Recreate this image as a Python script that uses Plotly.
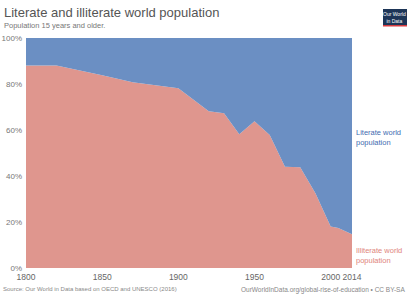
import plotly.graph_objects as go

years = [1800, 1820, 1850, 1870, 1900, 1910, 1920, 1930, 1940, 1950, 1960, 1970, 1980, 1990, 2000, 2005, 2014]
illiterate = [88.0, 88.0, 83.8, 80.8, 78.2, 73.2, 68.2, 67.3, 58.1, 63.8, 57.8, 44.0, 43.8, 32.5, 18.0, 17.4, 14.7]
literate = [round(100 - v, 2) for v in illiterate]
x_ticks = [1800, 1850, 1900, 1950, 2000, 2014]
y_ticks = [0, 20, 40, 60, 80, 100]

BLUE = "#6b8fc3"
PINK = "#df968e"

fig = go.Figure()
fig.add_trace(go.Scatter(x=years, y=illiterate, stackgroup="one", mode="none",
                         fillcolor=PINK, name="Illiterate world population"))
fig.add_trace(go.Scatter(x=years, y=literate, stackgroup="one", mode="none",
                         fillcolor=BLUE, name="Literate world population"))

fig.update_layout(
    width=407, height=299,
    margin=dict(l=26, r=55, t=38, b=31),
    paper_bgcolor="white", plot_bgcolor="white",
    showlegend=False,
    font=dict(family="Liberation Sans, Arial, sans-serif", color="#777"),
    xaxis=dict(range=[1800, 2014], tickvals=x_ticks, ticktext=[str(t) for t in x_ticks],
               showgrid=False, zeroline=False, showline=False, automargin=False,
               tickangle=0, ticks="", tickfont=dict(size=8.5, color="#666"), ticklabelstandoff=2),
    yaxis=dict(range=[0, 100], tickvals=y_ticks, ticktext=[f"{t}%" for t in y_ticks],
               showgrid=False, zeroline=False, showline=False, automargin=False,
               ticks="", tickfont=dict(size=8, color="#777"), ticklabelstandoff=3),
)

def py(pix):
    return (268 - pix) / 230

def px(pix):
    return (pix - 26) / 326

fig.add_annotation(xref="paper", yref="paper", x=px(2), y=py(3),
                   xanchor="left", yanchor="top", showarrow=False, align="left",
                   text="Literate and illiterate world population",
                   font=dict(size=13, color="#555"))
fig.add_annotation(xref="paper", yref="paper", x=px(2), y=py(19),
                   xanchor="left", yanchor="top", showarrow=False, align="left",
                   text="Population 15 years and older.",
                   font=dict(size=7.5, color="#777"))
fig.add_annotation(xref="paper", yref="paper", x=px(354), y=py(126),
                   xanchor="left", yanchor="top", showarrow=False, align="left",
                   text="Literate world<br>population",
                   font=dict(size=7.5, color="#3f6cb0"))
fig.add_annotation(xref="paper", yref="paper", x=px(354), y=py(244),
                   xanchor="left", yanchor="top", showarrow=False, align="left",
                   text="Illiterate world<br>population",
                   font=dict(size=7.5, color="#e0857c"))
fig.add_annotation(xref="paper", yref="paper", x=px(1), y=py(284),
                   xanchor="left", yanchor="top", showarrow=False, align="left",
                   text="Source: Our World in Data based on OECD and UNESCO (2016)",
                   font=dict(size=6, color="#888"))
fig.add_annotation(xref="paper", yref="paper", x=px(407), y=py(284),
                   xanchor="right", yanchor="top", showarrow=False, align="right",
                   text="OurWorldInData.org/global-rise-of-education • CC BY-SA",
                   font=dict(size=6.5, color="#888"))
# logo
fig.add_shape(type="rect", xref="paper", yref="paper",
              x0=px(383), x1=px(408), y0=py(25), y1=py(9),
              fillcolor="#1d3557", line_width=0)
fig.add_shape(type="rect", xref="paper", yref="paper",
              x0=px(383), x1=px(408), y0=py(26.5), y1=py(25),
              fillcolor="#d73b3e", line_width=0)
fig.add_annotation(xref="paper", yref="paper", x=px(395), y=py(17),
                   xanchor="center", yanchor="middle", showarrow=False, align="center",
                   text="Our World<br>in Data", font=dict(size=5, color="white"))

fig.write_html("out.html")
